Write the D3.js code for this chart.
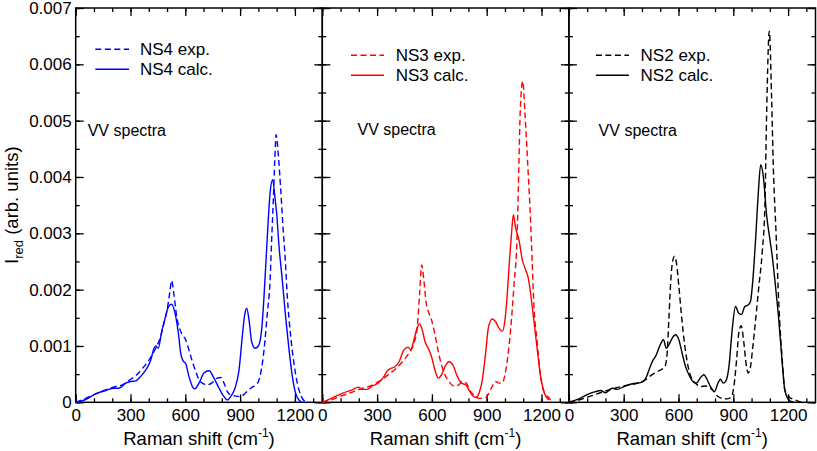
<!DOCTYPE html>
<html>
<head>
<meta charset="utf-8">
<script src="https://cdn.jsdelivr.net/npm/d3@7"></script>
<style>
  html, body { margin: 0; padding: 0; background: #fff; }
  svg { display: block; font-family: "Liberation Sans", Arial, Helvetica, sans-serif; }
</style>
</head>
<body>
<script>
// intensities are in units of 0.001 (arb. units); shifts in cm^-1
var ns4ExpShift = [0, 55, 109, 164, 219, 255, 292, 328, 365, 401, 438, 465, 483, 502, 516, 525, 538, 553, 571, 584, 602, 620, 639, 657, 675, 693, 721, 748, 775, 794, 812, 830, 848, 876, 903, 930, 958, 985, 1000, 1013, 1031, 1049, 1064, 1073, 1082, 1090, 1097, 1109, 1122, 1135, 1146, 1159, 1177, 1195, 1213, 1232, 1259, 1275];
var ns4ExpI = [0, 0.07, 0.15, 0.22, 0.28, 0.31, 0.39, 0.47, 0.60, 0.75, 0.96, 1.17, 1.40, 1.67, 1.97, 2.16, 1.91, 1.52, 1.29, 1.20, 1.11, 0.93, 0.72, 0.55, 0.40, 0.34, 0.31, 0.35, 0.43, 0.44, 0.34, 0.19, 0.13, 0.11, 0.10, 0.17, 0.25, 0.31, 0.37, 0.52, 0.93, 1.58, 2.15, 2.9, 3.6, 4.3, 4.75, 4.4, 3.8, 3.1, 2.6, 1.85, 1.17, 0.69, 0.34, 0.13, 0.01, 0];
var ns4CalcShift = [0, 55, 109, 164, 210, 237, 274, 301, 328, 356, 383, 411, 429, 438, 452, 471, 489, 507, 525, 544, 562, 575, 587, 602, 620, 639, 653, 675, 702, 730, 757, 785, 812, 830, 848, 872, 894, 912, 925, 936, 949, 963, 982, 1000, 1018, 1031, 1049, 1064, 1078, 1092, 1100, 1113, 1131, 1149, 1168, 1186, 1204, 1222, 1241];
var ns4CalcI = [0, 0.05, 0.15, 0.21, 0.25, 0.25, 0.34, 0.37, 0.38, 0.46, 0.57, 0.75, 0.96, 1.00, 0.96, 1.26, 1.49, 1.69, 1.74, 1.58, 1.23, 0.87, 0.74, 0.69, 0.46, 0.28, 0.24, 0.34, 0.52, 0.56, 0.43, 0.25, 0.10, 0.04, 0.10, 0.25, 0.57, 1.17, 1.55, 1.67, 1.46, 1.08, 0.96, 1.00, 1.29, 1.88, 2.94, 3.71, 3.95, 3.6, 3.36, 2.77, 2.17, 1.52, 0.93, 0.46, 0.16, 0.04, 0];

var ns3ExpShift = [0, 55, 109, 164, 219, 255, 292, 328, 365, 401, 438, 474, 502, 520, 533, 544, 556, 569, 584, 598, 617, 635, 653, 671, 693, 721, 748, 766, 788, 812, 830, 858, 885, 912, 930, 949, 967, 985, 1000, 1013, 1031, 1049, 1067, 1076, 1084, 1097, 1110, 1125, 1140, 1150, 1158, 1177, 1195, 1213, 1240, 1259];
var ns3ExpI = [0, 0.05, 0.12, 0.18, 0.25, 0.28, 0.34, 0.41, 0.50, 0.59, 0.72, 0.87, 1.05, 1.34, 1.94, 2.44, 2.17, 1.76, 1.58, 1.46, 1.20, 0.90, 0.66, 0.49, 0.37, 0.29, 0.31, 0.37, 0.34, 0.19, 0.13, 0.07, 0.07, 0.16, 0.28, 0.37, 0.34, 0.34, 0.49, 0.75, 1.29, 2.06, 3.0, 4.2, 5.2, 5.70, 5.1, 4.2, 3.24, 2.4, 1.76, 1.05, 0.46, 0.19, 0.08, 0.01];
var ns3CalcShift = [0, 55, 109, 164, 197, 219, 246, 274, 310, 338, 356, 374, 398, 420, 447, 471, 483, 502, 516, 533, 547, 562, 580, 598, 617, 635, 653, 671, 693, 715, 739, 763, 785, 803, 825, 843, 858, 876, 894, 909, 930, 949, 967, 985, 1000, 1013, 1025, 1036, 1046, 1058, 1076, 1095, 1113, 1128, 1140, 1158, 1177, 1195, 1213, 1240];
var ns3CalcI = [0, 0.08, 0.16, 0.22, 0.27, 0.23, 0.23, 0.29, 0.35, 0.46, 0.56, 0.60, 0.63, 0.72, 0.93, 0.98, 0.93, 1.11, 1.29, 1.39, 1.29, 1.08, 0.96, 0.81, 0.57, 0.43, 0.49, 0.63, 0.72, 0.66, 0.46, 0.34, 0.31, 0.22, 0.11, 0.09, 0.16, 0.40, 0.87, 1.32, 1.48, 1.43, 1.32, 1.26, 1.46, 1.94, 2.53, 3.0, 3.33, 3.1, 2.89, 2.53, 2.35, 2.2, 1.94, 1.46, 0.93, 0.46, 0.19, 0.04];

var ns2ExpShift = [0, 55, 109, 164, 219, 274, 328, 383, 420, 456, 493, 525, 538, 547, 556, 566, 578, 589, 602, 617, 635, 653, 675, 693, 721, 748, 775, 794, 812, 839, 867, 890, 903, 918, 930, 943, 958, 971, 982, 994, 1007, 1022, 1040, 1058, 1073, 1083, 1097, 1110, 1119, 1134, 1149, 1168, 1182, 1204, 1240, 1277];
var ns2ExpI = [0, 0.04, 0.10, 0.16, 0.22, 0.27, 0.31, 0.34, 0.40, 0.49, 0.56, 0.63, 0.87, 1.46, 2.06, 2.47, 2.59, 2.47, 2.06, 1.52, 0.99, 0.63, 0.40, 0.34, 0.28, 0.29, 0.25, 0.19, 0.11, 0.07, 0.06, 0.10, 0.28, 0.75, 1.23, 1.36, 1.05, 0.66, 0.52, 0.63, 0.99, 1.46, 2.06, 2.65, 3.5, 5.2, 6.59, 5.37, 4.19, 3.01, 1.76, 0.75, 0.22, 0.10, 0.04, 0];
var ns2CalcShift = [0, 55, 109, 146, 173, 201, 237, 265, 301, 347, 392, 416, 438, 456, 478, 496, 518, 533, 547, 566, 584, 602, 620, 639, 657, 679, 697, 721, 739, 757, 775, 797, 816, 830, 845, 858, 876, 894, 912, 930, 945, 963, 982, 994, 1007, 1022, 1037, 1050, 1064, 1083, 1100, 1113, 1131, 1149, 1168, 1182, 1204, 1230];
var ns2CalcI = [0, 0.06, 0.15, 0.19, 0.21, 0.17, 0.25, 0.23, 0.28, 0.33, 0.35, 0.40, 0.57, 0.72, 0.84, 0.99, 1.11, 0.96, 1.02, 1.14, 1.20, 1.11, 0.87, 0.63, 0.49, 0.37, 0.34, 0.44, 0.49, 0.40, 0.28, 0.19, 0.34, 0.41, 0.34, 0.37, 0.63, 1.29, 1.70, 1.58, 1.56, 1.70, 1.73, 1.79, 2.17, 2.89, 3.72, 4.22, 4.02, 3.3, 2.9, 2.6, 2.06, 1.46, 0.69, 0.22, 0.04, 0];

var xTickValues = [0, 300, 600, 900, 1200];
var yTickValues = [0, 0.001, 0.002, 0.003, 0.004, 0.005, 0.006, 0.007];
var sampleNames = ["NS4", "NS3", "NS2"];
var sampleColors = ["#0000ff", "#ff0000", "#000000"];

var panels = [
  {name: sampleNames[0], color: sampleColors[0], expX: ns4ExpShift, expY: ns4ExpI, calcX: ns4CalcShift, calcY: ns4CalcI},
  {name: sampleNames[1], color: sampleColors[1], expX: ns3ExpShift, expY: ns3ExpI, calcX: ns3CalcShift, calcY: ns3CalcI},
  {name: sampleNames[2], color: sampleColors[2], expX: ns2ExpShift, expY: ns2ExpI, calcX: ns2CalcShift, calcY: ns2CalcI}
];
// legend / note placement inside each panel (px from panel left)
var panelLayout = [
  {lx0: 19.6, lx1: 53.3, tx: 64.3, ly0: 49.3, ly1: 69.3, vx: 12, vy: 130},
  {lx0: 28.7, lx1: 61.7, tx: 73.4, ly0: 55.3, ly1: 75.2, vx: 35.2, vy: 129},
  {lx0: 27, lx1: 60, tx: 71.7, ly0: 55.3, ly1: 75.3, vx: 29.7, vy: 130}
];

var W = 817, H = 451;
var plotLeft = 75.7, plotTop = 8, plotBottom = 402.3, panelW = 246.6;

var svg = d3.select("body").append("svg").attr("width", W).attr("height", H);

var y = d3.scaleLinear().domain([0, 0.007]).range([plotBottom, plotTop]);

panels.forEach(function (p, i) {
  var x0 = plotLeft + i * panelW;
  var x = d3.scaleLinear().domain([0, 1350]).range([x0, x0 + panelW]);
  var lay = panelLayout[i];
  var g = svg.append("g");

  // minor ticks
  var minorX = d3.range(0, 1351, 100);
  var minorY = d3.range(0, 0.00701, 0.0005);
  g.append("g").attr("transform", "translate(0," + plotBottom + ")")
    .call(d3.axisBottom(x).tickValues(minorX).tickSize(-4).tickFormat(""));
  g.append("g").attr("transform", "translate(0," + plotTop + ")")
    .call(d3.axisTop(x).tickValues(minorX).tickSize(-4).tickFormat(""));
  g.append("g").attr("transform", "translate(" + x0 + ",0)")
    .call(d3.axisLeft(y).tickValues(minorY).tickSize(-4).tickFormat(""));
  g.append("g").attr("transform", "translate(" + (x0 + panelW) + ",0)")
    .call(d3.axisRight(y).tickValues(minorY).tickSize(-4).tickFormat(""));

  // major ticks
  g.append("g").attr("class", "xaxis").attr("transform", "translate(0," + plotBottom + ")")
    .call(d3.axisBottom(x).tickValues(xTickValues).tickSize(-8).tickPadding(6.5).tickFormat(d3.format("d")));
  g.append("g").attr("transform", "translate(0," + plotTop + ")")
    .call(d3.axisTop(x).tickValues(xTickValues).tickSize(-8).tickFormat(""));
  g.append("g").attr("transform", "translate(" + x0 + ",0)")
    .call(d3.axisLeft(y).tickValues(yTickValues).tickSize(-8).tickPadding(4)
      .tickFormat(i === 0 ? function (d) { return d === 0 ? "0" : d3.format(".3f")(d); } : ""));
  g.append("g").attr("transform", "translate(" + (x0 + panelW) + ",0)")
    .call(d3.axisRight(y).tickValues(yTickValues).tickSize(-8).tickFormat(""));

  g.selectAll(".domain").remove();
  g.selectAll(".tick line").attr("stroke", "#000").attr("stroke-width", 1.3);
  g.selectAll(".tick text").attr("fill", "#000").style("font-size", "17px");

  // frame
  g.append("rect").attr("x", x0).attr("y", plotTop).attr("width", panelW).attr("height", plotBottom - plotTop)
    .attr("fill", "none").attr("stroke", "#000").attr("stroke-width", 1.5);

  var line = d3.line().curve(d3.curveMonotoneX)
    .x(function (d) { return x(d[0]); })
    .y(function (d) { return y(d[1] * 0.001); });

  var expPts = p.expX.map(function (v, k) { return [v, p.expY[k]]; });
  var calcPts = p.calcX.map(function (v, k) { return [v, p.calcY[k]]; });

  g.append("path").datum(expPts).attr("d", line)
    .attr("fill", "none").attr("stroke", p.color).attr("stroke-width", 1.4)
    .attr("stroke-dasharray", "6,3.5");
  g.append("path").datum(calcPts).attr("d", line)
    .attr("fill", "none").attr("stroke", p.color).attr("stroke-width", 1.4);

  // legend
  g.append("line").attr("x1", x0 + lay.lx0).attr("x2", x0 + lay.lx1)
    .attr("y1", lay.ly0).attr("y2", lay.ly0)
    .attr("stroke", p.color).attr("stroke-width", 1.4).attr("stroke-dasharray", "6,3.5");
  g.append("line").attr("x1", x0 + lay.lx0).attr("x2", x0 + lay.lx1)
    .attr("y1", lay.ly1).attr("y2", lay.ly1)
    .attr("stroke", p.color).attr("stroke-width", 1.4);
  g.append("text").attr("x", x0 + lay.tx).attr("y", lay.ly0).attr("dy", "0.35em")
    .style("font-size", "17px").text(p.name + " exp.");
  g.append("text").attr("x", x0 + lay.tx).attr("y", lay.ly1).attr("dy", "0.35em")
    .style("font-size", "17px").text(p.name + " calc.");

  g.append("text").attr("x", x0 + lay.vx).attr("y", lay.vy).attr("dy", "0.35em")
    .style("font-size", "16px").text("VV spectra");

  // x title
  var xt = g.append("text").attr("x", x0 + panelW / 2).attr("y", 445)
    .attr("text-anchor", "middle").style("font-size", "18.5px");
  xt.append("tspan").text("Raman shift (cm");
  xt.append("tspan").attr("dy", -8).style("font-size", "12px").text("-1");
  xt.append("tspan").attr("dy", 8).text(")");
});

// y title
var yt = svg.append("text").attr("transform", "translate(17.5," + ((plotTop + plotBottom) / 2) + ") rotate(-90)")
  .attr("text-anchor", "middle").style("font-size", "18.5px");
yt.append("tspan").text("I");
yt.append("tspan").attr("dy", 5).style("font-size", "13px").text("red");
yt.append("tspan").attr("dy", -5).text(" (arb. units)");
</script>
</body>
</html>
